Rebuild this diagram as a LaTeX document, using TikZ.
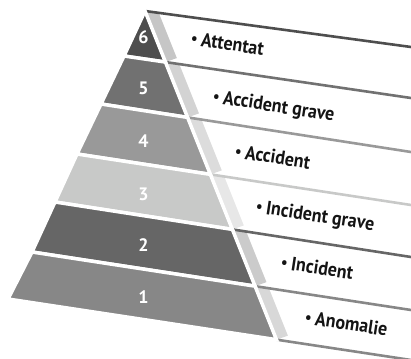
\documentclass[tikz,border=0pt]{standalone}
\usepackage{fontspec}
\setmainfont{PT Sans}
\usetikzlibrary{calc}
\definecolor{bandA}{HTML}{878787}
\definecolor{bandB}{HTML}{666666}
\definecolor{bandC}{HTML}{C8C9C8}
\definecolor{bandD}{HTML}{999999}
\definecolor{bandE}{HTML}{717171}
\definecolor{bandF}{HTML}{4E4E4E}
\definecolor{stripA}{HTML}{D8D8D8}
\definecolor{stripB}{HTML}{CBCBCB}
\definecolor{stripC}{HTML}{E7E7E7}
\definecolor{stripD}{HTML}{DCDCDC}
\definecolor{stripE}{HTML}{D3D3D3}
\definecolor{stripF}{HTML}{C6C6C6}
% narrow bullet item text
\newcommand{\itemtext}[1]{\scalebox{0.92}[1]{\raisebox{0.6pt}{\fontsize{16}{16}\selectfont•}\hspace{4pt}#1}}
\begin{document}
\begin{tikzpicture}[x=1pt,y=-1pt,
  band/.style={draw=white, line width=3.5pt, line join=miter},
  boxline/.style={line width=2.6pt},
  num/.style={text=white, inner sep=0pt, font=\bfseries\fontsize{18}{18}\selectfont},
  lbl/.style={anchor=base west, rotate=-8.7, inner sep=0pt, text=black!92,
    font=\bfseries\fontsize{19.5}{19.5}\selectfont}
]
\useasboundingbox (0,0) rectangle (411,358);

% pyramid edges
\coordinate (apex) at (145,11);
\coordinate (bR) at (281,351);   % right edge of the pyramid
\coordinate (sA) at (158,11);    % outer edge of the side strips
\coordinate (sB) at (294,351);

% band boundaries: left end on the pyramid, right end at the page edge
\coordinate (sL7) at (145,11);  \coordinate (sR7) at (411,47);
\coordinate (sL6) at (124,56);  \coordinate (sR6) at (411,98);
\coordinate (sL5) at (101,104); \coordinate (sR5) at (411,152);
\coordinate (sL4) at (77,154);  \coordinate (sR4) at (411,205);
\coordinate (sL3) at (55,202);  \coordinate (sR3) at (411,257);
\coordinate (sL2) at (32,252);  \coordinate (sR2) at (411,310);
\coordinate (sL1) at (8,299);   \coordinate (sR1) at (411,360);

\coordinate (b1) at (intersection of sL1--sR1 and apex--bR);
\coordinate (b2) at (intersection of sL2--sR2 and apex--bR);
\coordinate (b3) at (intersection of sL3--sR3 and apex--bR);
\coordinate (b4) at (intersection of sL4--sR4 and apex--bR);
\coordinate (b5) at (intersection of sL5--sR5 and apex--bR);
\coordinate (b6) at (intersection of sL6--sR6 and apex--bR);
\coordinate (b7) at (apex);
\coordinate (c2) at (intersection of sL2--sR2 and sA--sB);
\coordinate (c3) at (intersection of sL3--sR3 and sA--sB);
\coordinate (c4) at (intersection of sL4--sR4 and sA--sB);
\coordinate (c5) at (intersection of sL5--sR5 and sA--sB);
\coordinate (c6) at (intersection of sL6--sR6 and sA--sB);
\coordinate (c7) at (intersection of sL7--sR7 and sA--sB);

% side strips of the list boxes
\foreach \k/\t/\c in {6/7/stripF,5/6/stripE,4/5/stripD,3/4/stripC,2/3/stripB,1/2/stripA}{
  \fill[\c] (b\t) -- (c\t) -- ($(b\k)+(11.4,-4)$) -- (b\k) -- cycle;
}

% top edges of the list boxes
\draw[boxline, bandF] (b7) -- (sR7);
\draw[boxline, bandE] (b6) -- (sR6);
\draw[boxline, bandD] (b5) -- (sR5);
\draw[boxline, bandC] (b4) -- (sR4);
\draw[boxline, bandB] (b3) -- (sR3);
\draw[boxline, bandA] (b2) -- (sR2);
\draw[boxline, bandA] (b1) -- (sR1);

% pyramid bands
\filldraw[band, fill=bandF] (apex) -- (sL6) -- (b6) -- cycle;
\filldraw[band, fill=bandE] (sL6) -- (sL5) -- (b5) -- (b6) -- cycle;
\filldraw[band, fill=bandD] (sL5) -- (sL4) -- (b4) -- (b5) -- cycle;
\filldraw[band, fill=bandC] (sL4) -- (sL3) -- (b3) -- (b4) -- cycle;
\filldraw[band, fill=bandB] (sL3) -- (sL2) -- (b2) -- (b3) -- cycle;
\filldraw[band, fill=bandA] (sL2) -- (sL1) -- (b1) -- (b2) -- cycle;

% level numbers
\node[num] (n6) at (143.5,37.5) {6};
\node[num] (n5) at (143.5,88) {5};
\node[num] (n4) at (143.5,141.5) {4};
\node[num] (n3) at (143.5,194) {3};
\node[num] (n2) at (143.5,245) {2};
\node[num] (n1) at (143.5,297) {1};

% list texts
\node[lbl] (t6) at (190,44.5) {\itemtext{Attentat}};
\node[lbl] (t5) at (212,102.5) {\itemtext{Accident grave}};
\node[lbl] (t4) at (234,157.5) {\itemtext{Accident}};
\node[lbl] (t3) at (255,212.5) {\itemtext{Incident grave}};
\node[lbl] (t2) at (280,268.5) {\itemtext{Incident}};
\node[lbl] (t1) at (304,323.5) {\itemtext{Anomalie}};
\end{tikzpicture}
\end{document}
